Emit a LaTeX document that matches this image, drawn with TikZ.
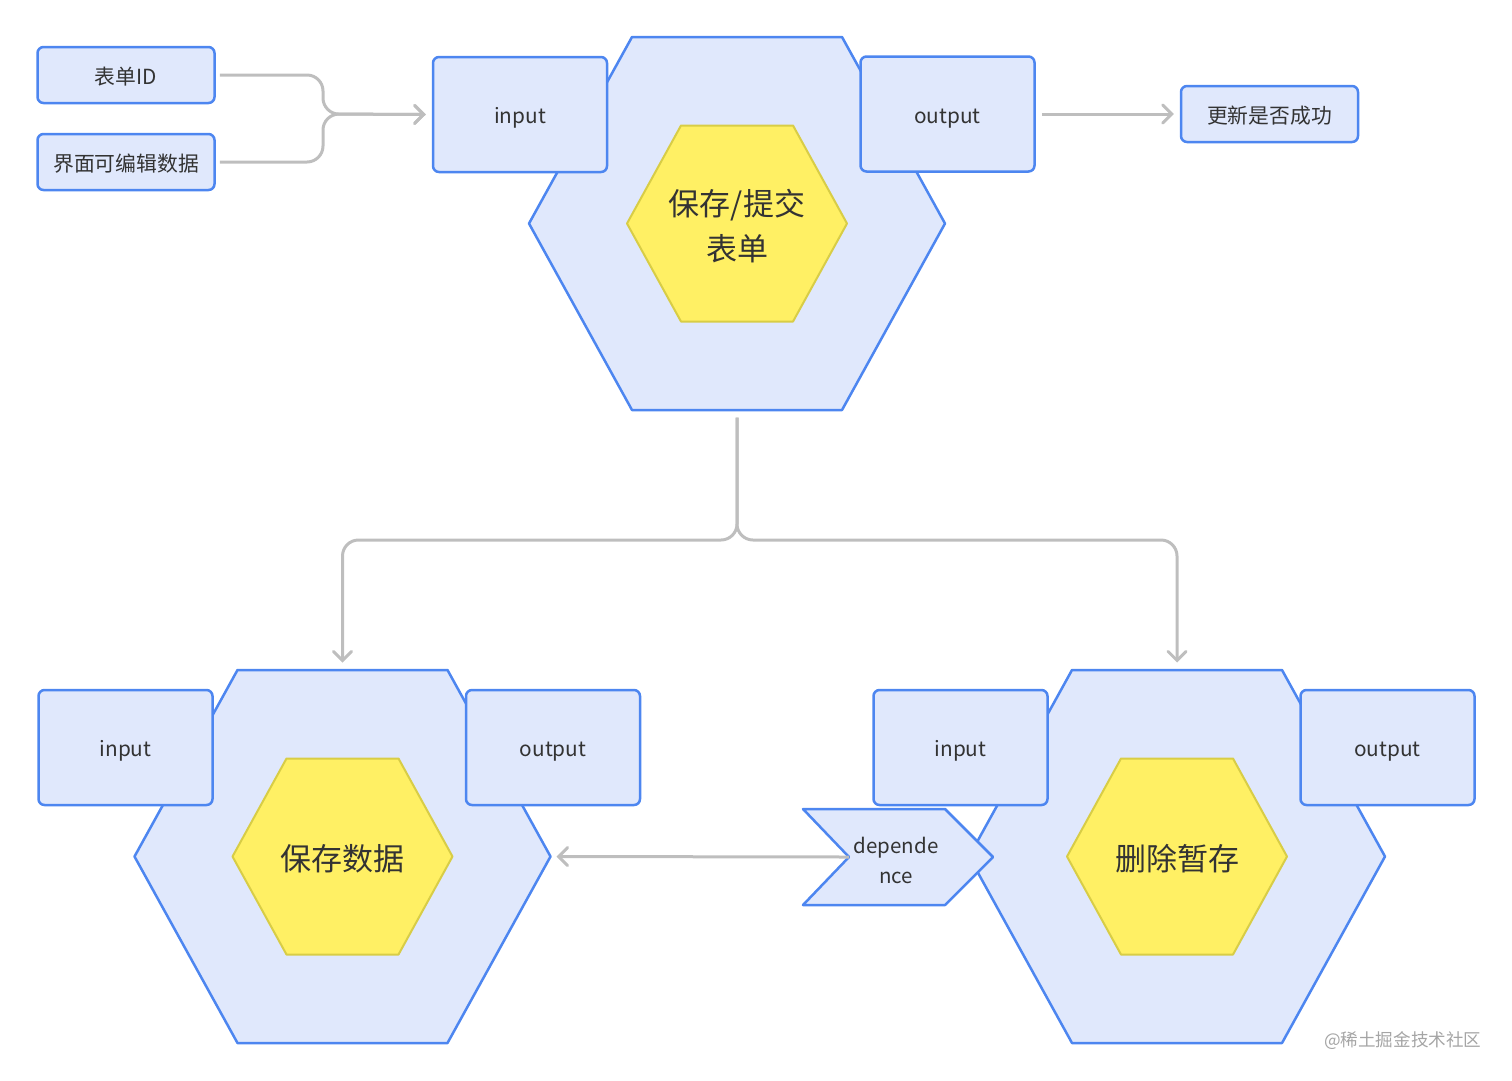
\documentclass[tikz,border=0pt]{standalone}
\usepackage{fontspec}
\setmainfont{Noto Sans CJK SC}
\usetikzlibrary{arrows.meta}
\definecolor{bfill}{RGB}{224,232,252}
\definecolor{bline}{RGB}{77,134,240}
\definecolor{yfill}{RGB}{255,240,100}
\definecolor{yline}{RGB}{216,205,70}
\definecolor{gline}{RGB}{190,190,190}
\definecolor{txt}{RGB}{51,51,51}
\definecolor{wm}{RGB}{165,165,165}
\tikzset{
  box/.style={draw=bline, fill=bfill, line width=2.5pt, rounded corners=6pt, text=txt,
    font=\fontsize{20.8}{24}\selectfont, inner sep=0pt, text height=18pt, text depth=0pt},
  portbox/.style={box, minimum width=174pt, minimum height=115pt},
  databox/.style={box, minimum width=177pt, minimum height=56pt, text height=19pt, text depth=-1pt},
  bighex/.style={draw=bline, fill=bfill, line width=2.5pt, line join=round},
  corehex/.style={draw=yline, fill=yfill, line width=2pt, line join=round},
  corelabel/.style={text=txt, font=\fontsize{31}{45}\selectfont, align=center},
  conn/.style={draw=gline, line width=3pt, rounded corners=16pt,
    -{Straight Barb[length=9pt,width=18pt,line cap=round]}},
}
\newcommand{\hexunit}[3]{% name, cx, cy
  \draw[bighex, shift={(#2,#3)}] (-208,0) -- (-105,-186.5) -- (105,-186.5) -- (208,0)
     -- (105,186.5) -- (-105,186.5) -- cycle;
  \coordinate (#1-top) at (#2,#3-194);
  \coordinate (#1-bottom) at (#2,#3+194);
  \coordinate (#1-right) at (#2+214,#3);
}
\newcommand{\corehexagon}[2]{%
  \draw[corehex, shift={(#1,#2)}] (-110,0) -- (-56,-98) -- (56,-98) -- (110,0)
     -- (56,98) -- (-56,98) -- cycle;
}
\begin{document}
\begin{tikzpicture}[x=1pt,y=-1pt]
\useasboundingbox (0,0) rectangle (1512,1080);

% ---------- top unit ----------
\hexunit{top}{737}{223.5}
\node[portbox] (topin) at (520,114.5) {input};
\node[portbox] (topout) at (947.5,114) {output};
\corehexagon{737}{223.5}
\node[corelabel] (topcore) at (737,226) {保存/提交\\表单};

\node[databox] (formid) at (126,75) {表单ID};
\node[databox] (formdata) at (126,162) {界面可编辑数据};
\node[databox] (result) at (1269.5,114) {更新是否成功};

\coordinate (jn) at (323,114);
\draw[conn] (formid.east) ++(4,0) -- (jn |- formid.east) -- (jn) -- ([xshift=-6pt]topin.west);
\draw[conn] (formdata.east) ++(4,0) -- (jn |- formdata.east) -- (jn) -- ([xshift=-6pt]topin.west);
\draw[conn] ([xshift=6pt]topout.east) -- ([xshift=-6pt]result.west);

% ---------- bottom-left unit ----------
\hexunit{bl}{342.5}{856.5}
\node[portbox] (blin) at (125.5,747.5) {input};
\node[portbox] (blout) at (553,747.5) {output};
\corehexagon{342.5}{856.5}
\node[corelabel] (blcore) at (342.5,859) {保存数据};

% ---------- bottom-right unit ----------
\hexunit{br}{1177}{856.5}
\node[portbox] (brin) at (960.5,747.5) {input};
\node[portbox] (brout) at (1387.5,747.5) {output};
\corehexagon{1177}{856.5}
\node[corelabel] (brcore) at (1177,859) {删除暂存};

% dependence port
\draw[bline, fill=bfill, line width=2.5pt, line join=round]
  (803,809) -- (945,809) -- (993,857) -- (945,905) -- (803,905) -- (849,857) -- cycle;
\coordinate (depnotch) at (849,857);
\node[text=txt, font=\fontsize{20.5}{30}\selectfont, align=center] (dep) at (896,860) {depende\\nce};

% ---------- connectors ----------
\coordinate (split) at (737,540);
\draw[conn] (top-bottom) -- (split) -- (bl-top |- split) -- (bl-top);
\draw[conn] (top-bottom) -- (split) -- (br-top |- split) -- (br-top);
\draw[conn] (depnotch) -- (bl-right);

% watermark
\node[text=wm, font=\fontsize{17.6}{20}\selectfont, anchor=east] (wmk) at (1485,1041) {@稀土掘金技术社区};
\end{tikzpicture}
\end{document}
